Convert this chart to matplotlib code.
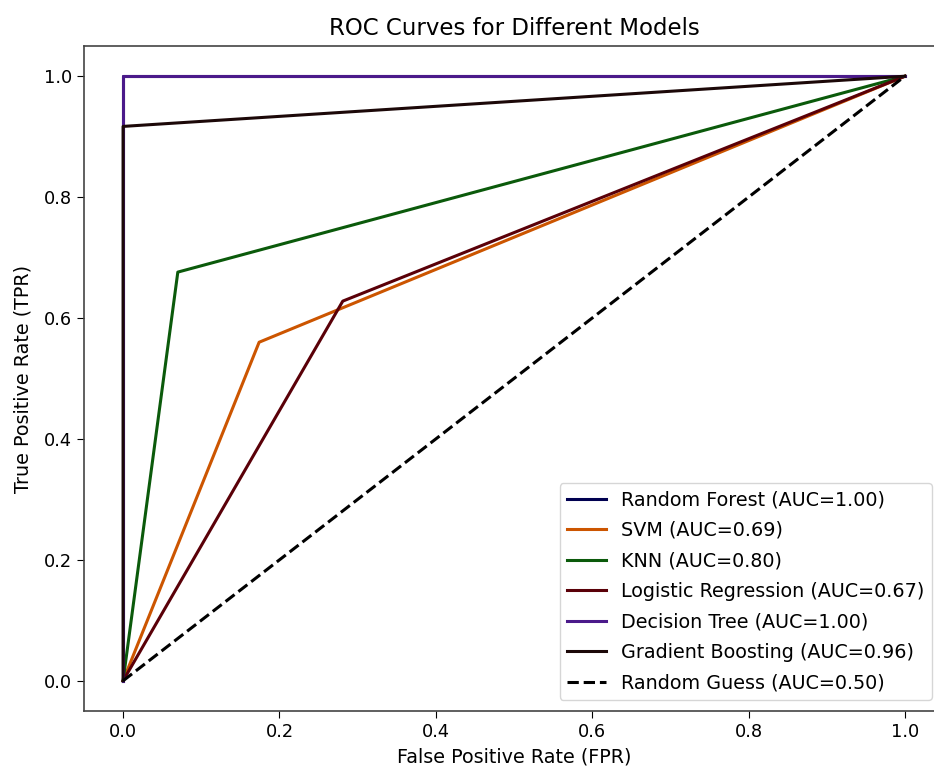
import matplotlib
matplotlib.use("Agg")
import matplotlib.pyplot as plt

models = ["Random Forest", "SVM", "KNN", "Logistic Regression", "Decision Tree", "Gradient Boosting"]
fpr_rf = [0.0, 0.0, 1.0]
tpr_rf = [0.0, 1.0, 1.0]
fpr_svm = [0.0, 0.174, 1.0]
tpr_svm = [0.0, 0.560, 1.0]
fpr_knn = [0.0, 0.070, 1.0]
tpr_knn = [0.0, 0.676, 1.0]
fpr_lr = [0.0, 0.281, 1.0]
tpr_lr = [0.0, 0.628, 1.0]
fpr_dt = [0.0, 0.0, 1.0]
tpr_dt = [0.0, 1.0, 1.0]
fpr_gb = [0.0, 0.0, 1.0]
tpr_gb = [0.0, 0.917, 1.0]
aucs = [1.00, 0.69, 0.80, 0.67, 1.00, 0.96]
colors = ["#000050", "#cc5500", "#0b5a0b", "#5a0008", "#4b1a8a", "#1c0808"]

fprs = [fpr_rf, fpr_svm, fpr_knn, fpr_lr, fpr_dt, fpr_gb]
tprs = [tpr_rf, tpr_svm, tpr_knn, tpr_lr, tpr_dt, tpr_gb]

fig = plt.figure(figsize=(9.34, 7.74), dpi=100)
ax = fig.add_axes([84 / 934, 1 - 711 / 774, (944 - 84) / 934, (711 - 46) / 774])
for name, f, t, a, c in zip(models, fprs, tprs, aucs, colors):
    ax.plot(f, t, color=c, lw=2.2, label=f"{name} (AUC={a:.2f})")
ax.plot([0, 1], [0, 1], color="black", lw=2.2, ls="--", label="Random Guess (AUC=0.50)")

for s in ax.spines.values():
    s.set_color("#444444")
    s.set_linewidth(1.2)
ax.set_title("ROC Curves for Different Models", fontsize=16.5, pad=8)
ax.set_xlabel("False Positive Rate (FPR)", fontsize=13.8, labelpad=5)
ax.set_ylabel("True Positive Rate (TPR)", fontsize=13.8, labelpad=8)
ax.tick_params(labelsize=12.8, length=5)
ax.legend(loc="lower right", fontsize=13.8, bbox_to_anchor=(932 / 934, 74 / 774),
          bbox_transform=fig.transFigure, borderaxespad=0, labelspacing=0.6)
fig.savefig("out.png", dpi=100)
